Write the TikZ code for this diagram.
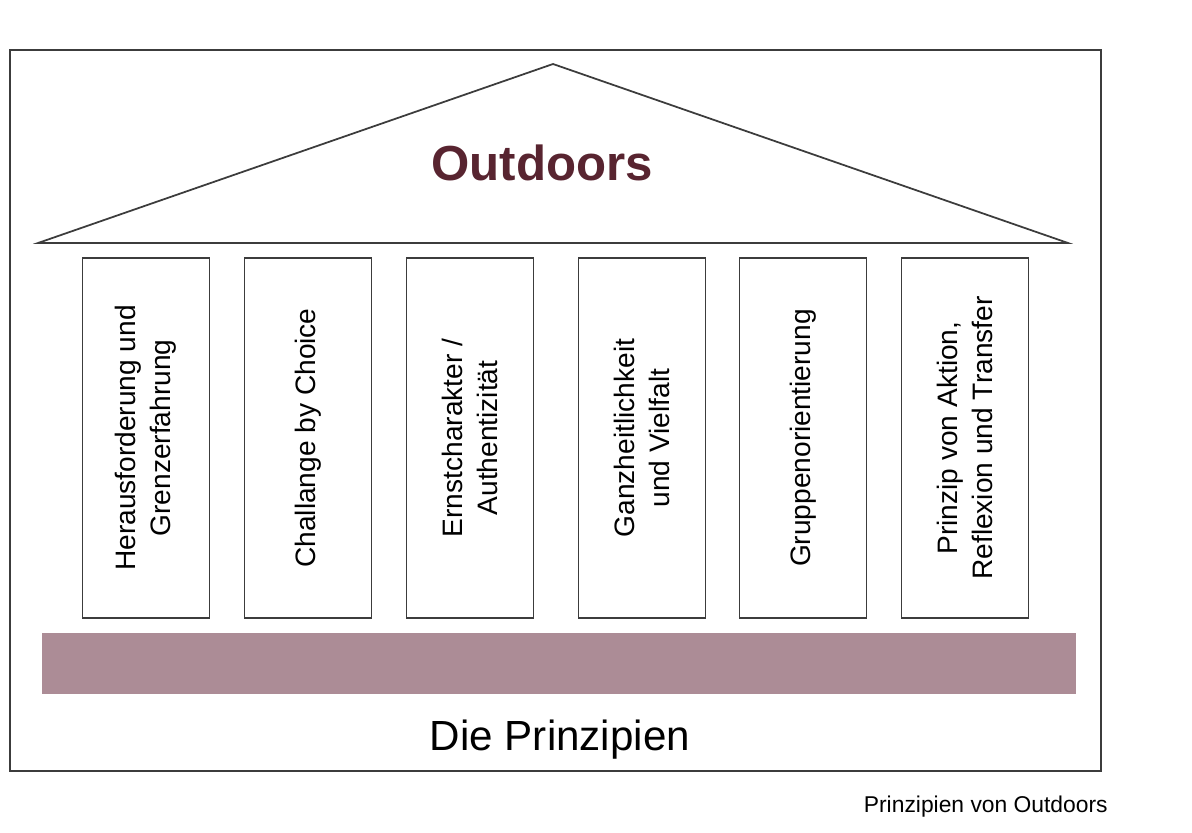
\documentclass[tikz,border=0pt]{standalone}
\usepackage{fontspec}
\setmainfont{Liberation Sans}
\definecolor{roofred}{RGB}{88,36,48}
\definecolor{beam}{RGB}{172,140,150}
\definecolor{ink}{RGB}{60,60,60}

\begin{document}
\begin{tikzpicture}[x=0.02cm,y=-0.02cm,
		pillar/.style={draw=ink, line width=0.9pt, rotate=90, minimum width=7.2cm, minimum height=2.54cm, inner sep=0pt, align=center, font=\fontsize{16}{20}\selectfont},
		plaintext/.style={inner sep=0pt}]
	\useasboundingbox (0,0) rectangle (1192,832);
	\draw[ink, line width=1pt] (10,50) rectangle (1101,771);
	%-- roof
	\coordinate (eaveL) at (38,243);
	\coordinate (apex) at (553,64);
	\coordinate (eaveR) at (1068,243);
	\draw[ink, line width=1pt] (eaveL) -- (apex) -- (eaveR) -- cycle;
	\node[plaintext, anchor=base, text=roofred, font=\fontsize{28}{32}\selectfont\bfseries] (roof) at (542,180) {Outdoors};
	%-- pillars
	\node[pillar] (p1) at (146,438) {Herausforderung und\\Grenzerfahrung};
	\node[pillar] (p2) at (308,438) {Challange by Choice};
	\node[pillar] (p3) at (470,438) {Ernstcharakter /\\Authentizität};
	\node[pillar] (p4) at (642,438) {Ganzheitlichkeit\\und Vielfalt};
	\node[pillar] (p5) at (803,438) {Gruppenorientierung};
	\node[pillar] (p6) at (965,438) {Prinzip von Aktion,\\Reflexion und Transfer};
	%-- base
	\fill[beam] (42,633) rectangle (1076,694);
	\node[plaintext, anchor=base, font=\fontsize{24}{28}\selectfont] (footer) at (560,750) {Die Prinzipien};
	\node[plaintext, anchor=base east, font=\fontsize{13}{16}\selectfont] (caption) at (1108,812) {Prinzipien von Outdoors};
\end{tikzpicture}
\end{document}
